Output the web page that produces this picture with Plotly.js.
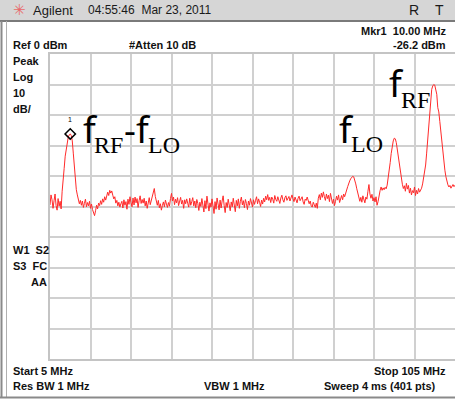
<!DOCTYPE html>
<html><head><meta charset="utf-8">
<script src="https://cdn.plot.ly/plotly-3.0.1.min.js"></script>
<style>html,body{margin:0;padding:0;background:#fff;overflow:hidden}#chart{width:455px;height:400px}</style>
</head><body><div id="chart"></div>
<script>
// ---- sweep settings ----
const startMHz = 5;
const stopMHz = 105;
const refLevelDbm = 0;
const dbPerDiv = 10;
const numDivs = 10;

// ---- trace (401 points, dBm) ----
const traceDbm = [
-49.5,-46.2,-47.8,-50.6,-48.1,-45.9,-49.7,-51.2,-47.4,-49.9,-48.3,-50.8,-45.0,-42.0,-37.5,-33.5,-30.8,-28.9,-27.3,-26.5,
-26.2,-26.7,-28.5,-32.5,-37.2,-41.5,-44.5,-46.2,-47.9,-49.1,-48.0,-49.6,-48.2,-50.3,-49.0,-47.6,-50.1,-48.7,-49.8,-48.3,
-50.6,-49.2,-51.0,-52.1,-53.0,-51.4,-49.6,-50.8,-48.9,-49.7,-48.1,-49.3,-47.5,-48.6,-46.8,-47.9,-46.0,-45.3,-46.4,-44.7,
-45.6,-44.9,-46.3,-47.5,-46.8,-48.9,-48.0,-49.8,-48.6,-50.2,-49.1,-48.3,-50.5,-47.8,-49.6,-48.4,-50.9,-47.6,-49.3,-46.8,
-48.7,-50.1,-47.2,-49.5,-46.9,-48.8,-47.4,-50.3,-48.1,-46.5,-49.0,-47.7,-48.9,-47.3,-49.8,-48.2,-50.6,-48.5,-47.1,-49.4,
-48.0,-47.2,-45.8,-44.1,-46.7,-48.3,-49.6,-48.0,-50.4,-49.1,-51.2,-49.7,-48.5,-50.1,-47.9,-49.2,-50.3,-48.7,-49.9,-47.4,
-45.7,-48.2,-46.9,-49.4,-47.6,-48.8,-47.1,-49.7,-48.3,-47.0,-49.2,-48.0,-50.6,-47.8,-49.1,-47.5,-48.9,-50.2,-47.3,-49.6,
-48.4,-47.1,-49.8,-48.2,-50.4,-47.7,-49.0,-51.3,-48.6,-50.0,-47.4,-49.5,-51.8,-48.1,-50.7,-46.6,-49.3,-51.5,-48.8,-50.2,
-47.5,-49.7,-52.3,-48.4,-50.9,-47.2,-49.4,-51.1,-47.9,-50.5,-48.2,-46.5,-49.6,-52.0,-48.7,-50.3,-47.6,-49.9,-51.4,-48.5,
-50.1,-47.3,-49.2,-51.7,-48.0,-49.8,-47.5,-50.6,-48.3,-46.9,-49.5,-48.1,-50.4,-47.7,-49.0,-51.0,-48.2,-49.6,-47.4,-48.9,
-50.2,-47.8,-49.3,-48.0,-46.8,-49.1,-47.5,-48.6,-50.0,-47.9,-49.2,-47.3,-48.5,-46.6,-47.8,-46.1,-48.0,-47.0,-48.7,-46.9,
-47.6,-48.9,-46.4,-47.7,-48.3,-46.8,-47.9,-49.0,-47.2,-46.3,-47.8,-48.6,-47.1,-46.5,-48.0,-47.4,-46.7,-48.2,-47.0,-46.2,
-47.5,-48.4,-46.9,-47.7,-48.8,-47.3,-46.6,-48.1,-47.4,-46.8,-48.5,-49.3,-47.6,-48.0,-46.9,-47.8,-49.1,-48.2,-49.8,-50.2,
-48.6,-49.4,-50.3,-48.9,-50.6,-47.3,-46.1,-47.8,-45.6,-47.0,-45.2,-46.8,-48.0,-45.9,-47.4,-46.3,-48.4,-45.7,-47.2,-49.0,
-47.6,-49.7,-48.3,-46.6,-47.9,-46.2,-48.7,-47.1,-46.4,-47.8,-45.9,-46.8,-45.1,-44.6,-43.5,-42.3,-41.6,-40.9,-40.4,-40.1,
-40.3,-41.2,-42.6,-44.2,-45.9,-47.1,-48.3,-47.0,-48.6,-46.5,-47.9,-48.8,-46.9,-47.6,-45.0,-42.8,-45.9,-47.3,-46.0,-48.2,
-47.1,-48.5,-46.8,-49.6,-48.4,-46.2,-44.8,-43.6,-44.7,-43.9,-44.5,-43.7,-44.2,-43.0,-40.8,-38.4,-35.6,-32.6,-30.2,-28.5,
-27.6,-27.8,-29.0,-31.2,-33.9,-36.8,-39.2,-41.3,-42.7,-44.1,-43.2,-45.0,-42.4,-44.3,-43.1,-45.6,-44.0,-46.2,-44.8,-45.5,
-43.6,-46.4,-44.7,-45.9,-44.1,-45.3,-44.6,-44.0,-42.6,-40.9,-39.2,-36.4,-32.5,-28.3,-22.4,-17.0,-13.6,-11.6,-10.5,-10.0,
-10.2,-11.5,-13.2,-17.6,-19.0,-22.1,-25.8,-29.6,-33.0,-35.8,-38.1,-40.2,-41.8,-42.9,-43.6,-43.1,-44.0,-43.4,-42.8,-43.5,
-43.0
];

// ---- marker ----
const markerFreqMHz = [10];
const markerLevelDbm = [-26.2];
const markerLabel = ["1"];

// ---- screen texts ----
const headerBrand = "Agilent";
const headerDate = "04:55:46\u00a0\u00a0Mar 23, 2011";
const headerFlags = ["R", "T"];
const markerReadFreq = "Mkr1\u00a0\u00a010.00 MHz";
const markerReadLevel = "-26.2 dBm";
const refText = "Ref 0 dBm";
const attenText = "#Atten 10 dB";
const leftTop = ["Peak", "Log", "10", "dB/"];
const leftMid = ["W1\u00a0\u00a0S2", "S3\u00a0\u00a0FC", "AA"];
const startText = "Start 5 MHz";
const stopText = "Stop 105 MHz";
const rbwText = "Res BW 1 MHz";
const vbwText = "VBW 1 MHz";
const sweepText = "Sweep 4 ms (401 pts)";
const signalLabels = [
  {f: "f", sub1: "RF", dash: "-f", sub2: "LO"},
  {f: "f", sub1: "LO"},
  {f: "f", sub1: "RF"}
];

const freqMHz = traceDbm.map((_, i) => startMHz + i * (stopMHz - startMHz) / (traceDbm.length - 1));

// pixel -> paper helpers for screen chrome
const L = 50, T = 54, W = 405, H = 305;
const P = px => (px - L) / W;
const Q = py => (T + H - py) / H;

const lab = {family: "Liberation Sans", size: 11, color: "#111", weight: "bold"};
function txt(text, x, y, anchor, font) {
  return {text: text, xref: "paper", yref: "paper", x: P(x), y: Q(y), xanchor: anchor, yanchor: "middle",
          showarrow: false, font: font || lab, borderpad: 0};
}
const fFont = {family: "Noto Sans", size: 37, color: "#000"};
const sFont = {family: "Liberation Serif", size: 24, color: "#000"};

const annotations = [
  txt("\u2733", 12, 10, "left", {family: "DejaVu Sans", size: 15, color: "#e86a6a"}),
  txt(headerBrand, 32, 10, "left", {family: "Liberation Sans", size: 13, color: "#1a1a1a"}),
  txt(headerDate, 87, 10, "left", {family: "Liberation Sans", size: 12, color: "#1a1a1a"}),
  txt(headerFlags[0], 414, 10, "center", {family: "Liberation Sans", size: 14, color: "#1a1a1a"}),
  txt(headerFlags[1], 439, 10, "center", {family: "Liberation Sans", size: 14, color: "#1a1a1a"}),
  txt(markerReadFreq, 447, 31, "right"),
  txt(refText, 12, 45, "left"),
  txt(attenText, 128, 45, "left"),
  txt(markerReadLevel, 447, 45, "right"),
  txt(leftTop[0], 12, 61, "left"),
  txt(leftTop[1], 12, 77, "left"),
  txt(leftTop[2], 12, 93, "left"),
  txt(leftTop[3], 12, 109, "left"),
  txt(leftMid[0], 12, 250, "left"),
  txt(leftMid[1], 12, 266, "left"),
  txt(leftMid[2], 48, 282, "right"),
  txt(startText, 12, 371, "left"),
  txt(stopText, 447, 371, "right"),
  txt(rbwText, 12, 386, "left"),
  txt(vbwText, 234, 386, "center"),
  txt(sweepText, 437, 386, "right"),
  // signal labels
  txt(signalLabels[0].f, 82, 128.6, "left", fFont),
  txt(signalLabels[0].sub1, 93, 145, "left", sFont),
  txt(signalLabels[0].dash, 123, 128.6, "left", fFont),
  txt(signalLabels[0].sub2, 147, 145, "left", sFont),
  txt(signalLabels[1].f, 338, 128.6, "left", fFont),
  txt(signalLabels[1].sub1, 350, 144, "left", sFont),
  txt(signalLabels[2].f, 388, 82.6, "left", fFont),
  txt(signalLabels[2].sub1, 400, 100, "left", sFont),
  // marker number
  {text: markerLabel[0], x: markerFreqMHz[0], y: markerLevelDbm[0], xref: "x", yref: "y", showarrow: false,
   yshift: 14, font: {family: "Liberation Sans", size: 7, color: "#000"}}
];

const shapes = [
  {type: "rect", xref: "paper", yref: "paper", x0: P(0), x1: P(455), y0: Q(20), y1: Q(0), fillcolor: "#d6d6d6", line: {width: 0}, layer: "above"},
  {type: "line", xref: "paper", yref: "paper", x0: P(0), x1: P(455), y0: Q(21), y1: Q(21), line: {color: "#7a7a7a", width: 2}, layer: "above"},
  {type: "line", xref: "paper", yref: "paper", x0: P(1.5), x1: P(1.5), y0: Q(21), y1: Q(398), line: {color: "#8a8a8a", width: 2}, layer: "above"},
  {type: "line", xref: "paper", yref: "paper", x0: P(6.5), x1: P(6.5), y0: Q(21), y1: Q(398), line: {color: "#b0b0b0", width: 1}, layer: "above"},
  {type: "line", xref: "paper", yref: "paper", x0: P(0), x1: P(455), y0: Q(397.5), y1: Q(397.5), line: {color: "#8a8a8a", width: 2}, layer: "above"}
];

const data = [
  {x: freqMHz, y: traceDbm, type: "scatter", mode: "lines", line: {color: "#ff2a2a", width: 1}, hoverinfo: "skip"},
  {x: markerFreqMHz, y: markerLevelDbm, type: "scatter", mode: "markers",
   marker: {symbol: "diamond-open", size: 8, color: "#000", line: {width: 1.5, color: "#000"}}, hoverinfo: "skip"}
];

const gridCol = "#d0d0d0";
const layout = {
  width: 455, height: 400,
  margin: {l: L, r: 0, t: T, b: 400 - T - H, pad: 0},
  paper_bgcolor: "#fff", plot_bgcolor: "#fff",
  showlegend: false,
  xaxis: {range: [startMHz, stopMHz], tick0: startMHz, dtick: (stopMHz - startMHz) / numDivs,
          showgrid: true, gridcolor: gridCol, gridwidth: 2, zeroline: false, showticklabels: false, ticks: "",
          showline: true, linecolor: "#c4c4c4", linewidth: 2, mirror: true, fixedrange: true},
  yaxis: {range: [refLevelDbm - dbPerDiv * numDivs, refLevelDbm], tick0: refLevelDbm, dtick: dbPerDiv,
          showgrid: true, gridcolor: gridCol, gridwidth: 2, zeroline: false, showticklabels: false, ticks: "",
          showline: true, linecolor: "#c4c4c4", linewidth: 2, mirror: true, fixedrange: true},
  annotations: annotations,
  shapes: shapes
};

Plotly.newPlot("chart", data, layout, {displayModeBar: false, staticPlot: true});
</script>
</body></html>
